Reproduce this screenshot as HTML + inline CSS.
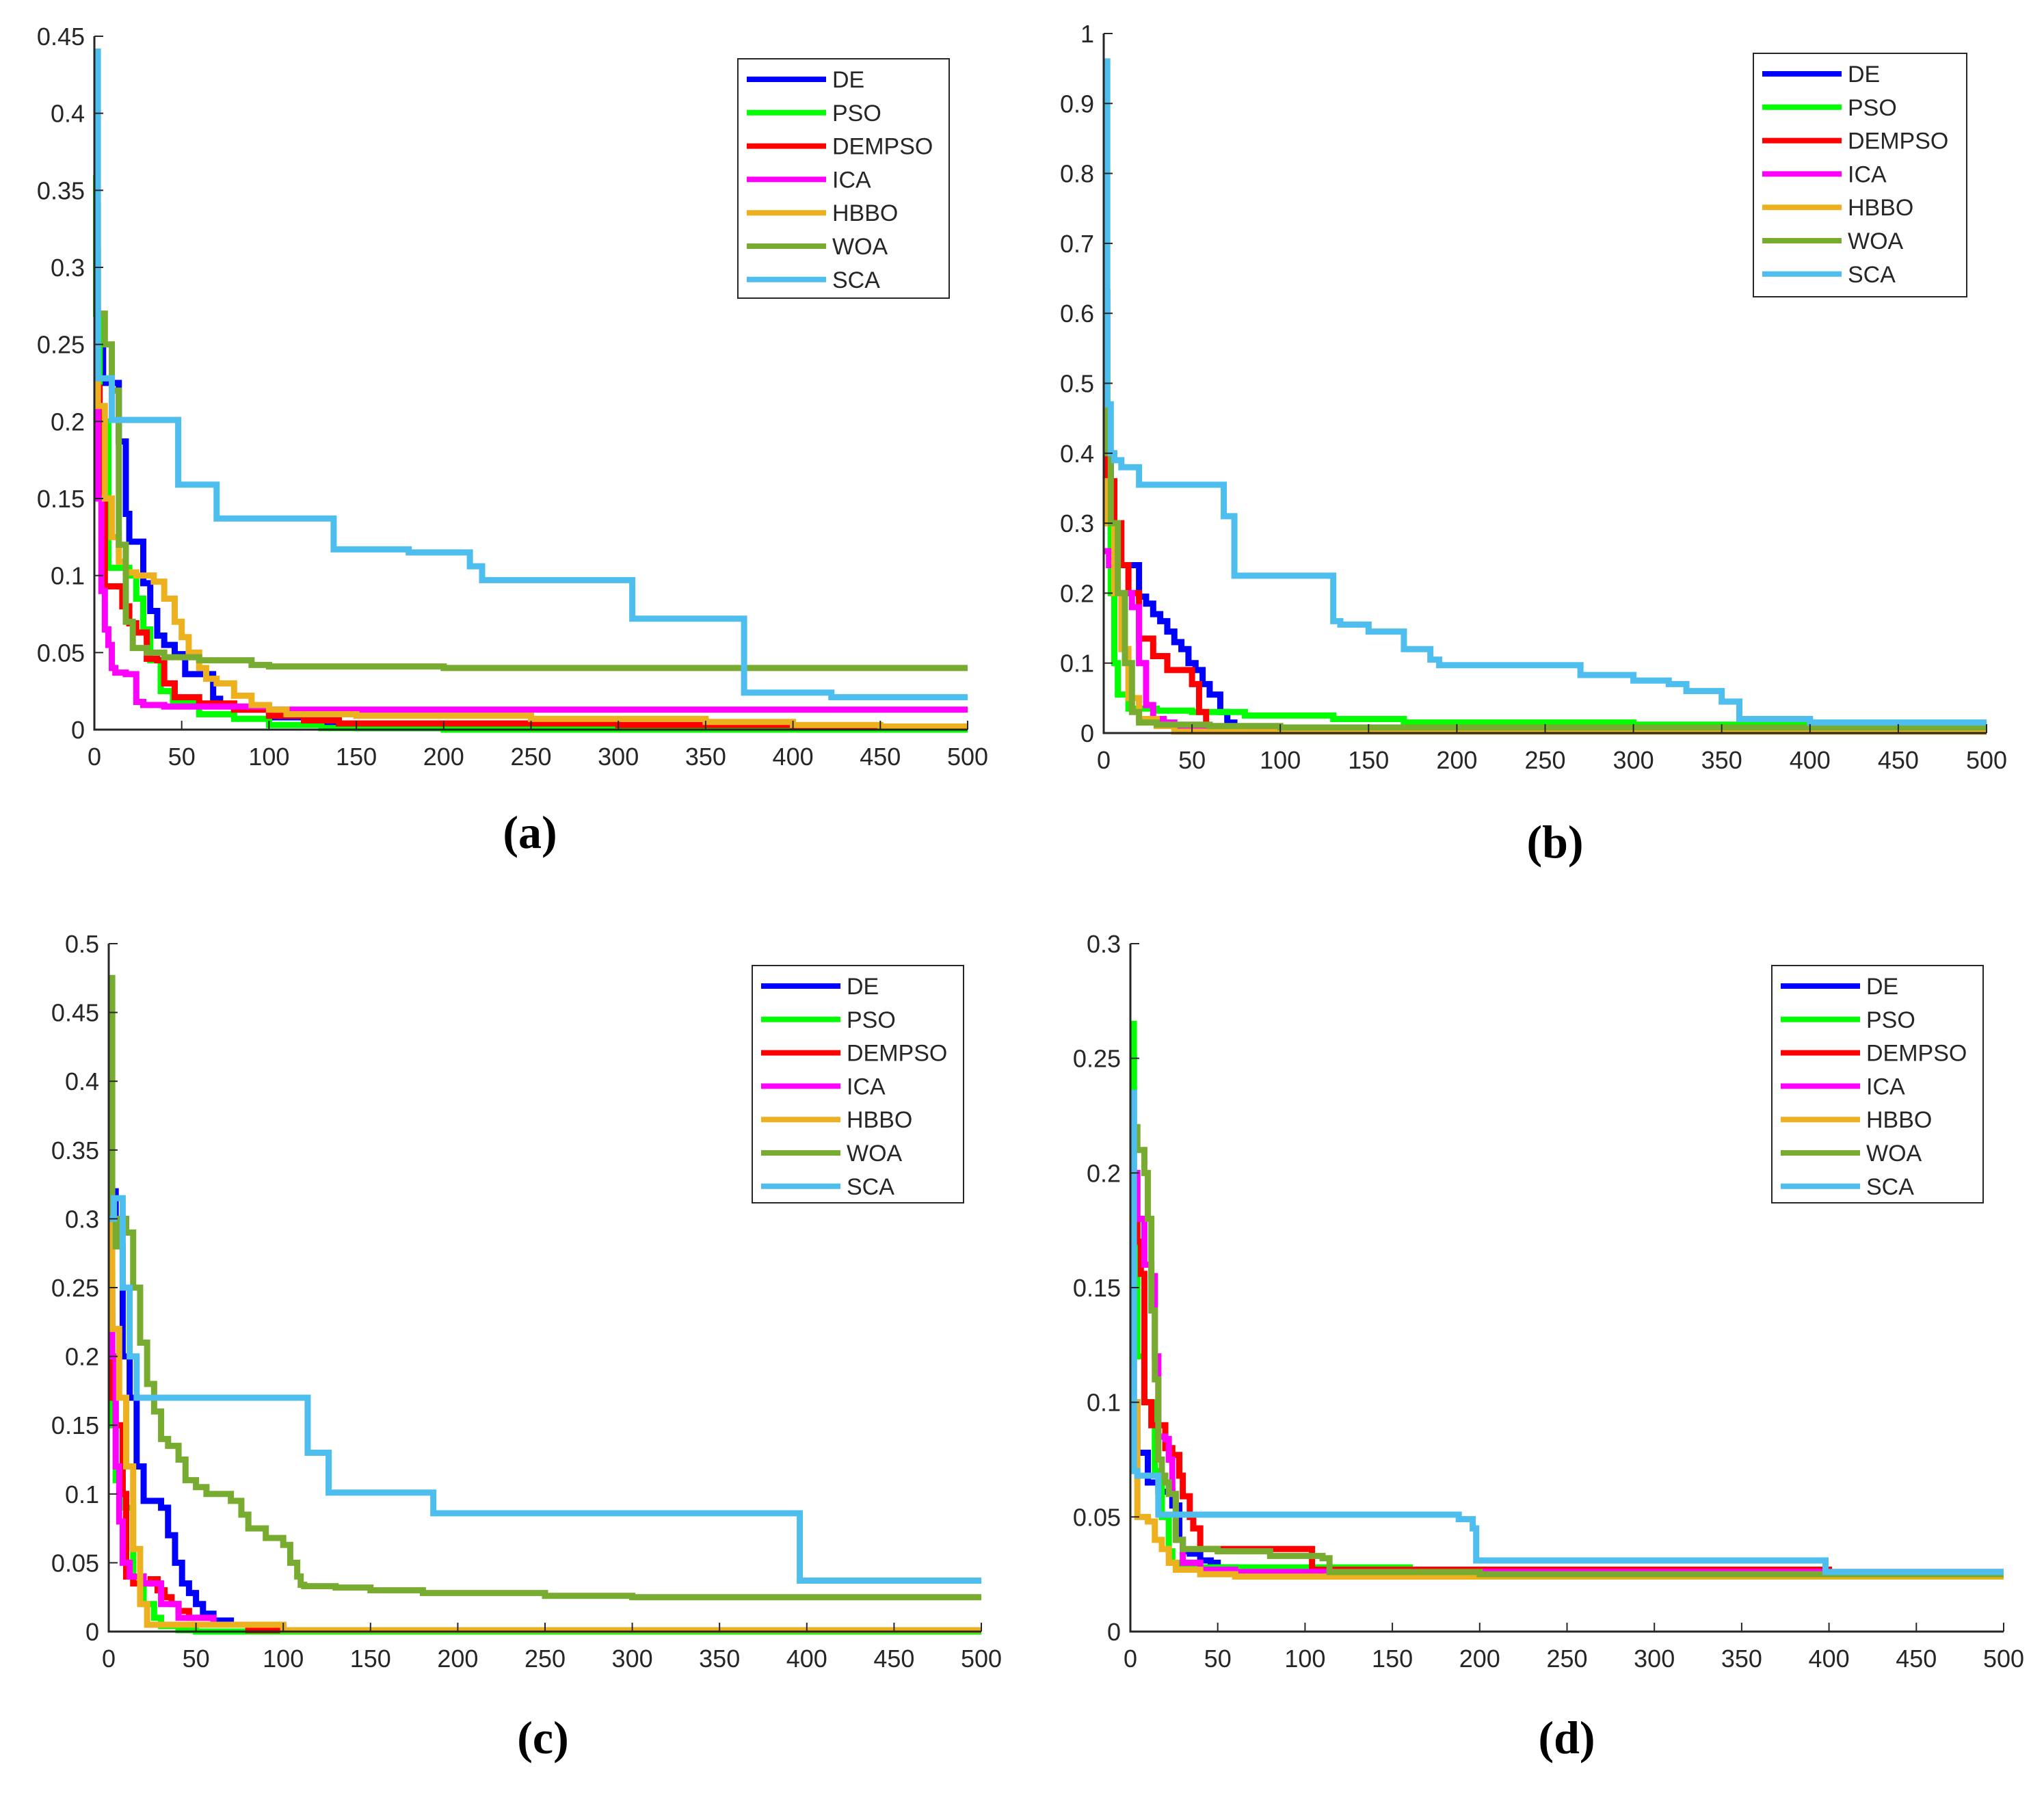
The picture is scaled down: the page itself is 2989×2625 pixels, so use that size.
<!DOCTYPE html>
<html><head><meta charset="utf-8"><style>
html,body{margin:0;padding:0;background:#fff}
svg{display:block}
text{font-family:"Liberation Sans",sans-serif;fill:#262626}
</style></head><body>
<svg id="fig" width="2989" height="2625" viewBox="0 0 2989 2625" xmlns="http://www.w3.org/2000/svg"></svg>
<script>
const names=["DE","PSO","DEMPSO","ICA","HBBO","WOA","SCA"];
const colors=["#0000ff","#00ff00","#ff0000","#ff00ff","#EDB120","#77AC30","#4DBEEE"];
// Panel a
const aX_DE=[0,2,5,14,18,20,28,32,36,40,46,52,68,72,80,100,130,150];
const aY_DE=[0.31,0.25,0.225,0.187,0.14,0.122,0.095,0.077,0.061,0.055,0.049,0.036,0.02,0.016,0.013,0.008,0.003,0.001];
const aX_PSO=[0,1,3,8,20,24,28,32,38,45,60,80,100,130,200];
const aY_PSO=[0.36,0.27,0.2,0.105,0.1,0.085,0.065,0.045,0.025,0.018,0.01,0.007,0.003,0.001,0];
const aX_DEMPSO=[0,3,6,16,20,24,30,36,40,46,60,80,100,120,140,300,400];
const aY_DEMPSO=[0.222,0.15,0.093,0.08,0.069,0.063,0.046,0.045,0.03,0.021,0.017,0.013,0.009,0.006,0.004,0.003,0.002];
const aX_ICA=[0,2,4,6,8,10,12,18,24,28,40,100];
const aY_ICA=[0.237,0.15,0.09,0.065,0.055,0.04,0.037,0.036,0.018,0.016,0.015,0.013];
const aX_HBBO=[0,2,6,10,14,18,24,34,40,46,50,54,60,64,70,80,90,100,110,150,250,350,400,450];
const aY_HBBO=[0.225,0.21,0.15,0.125,0.109,0.102,0.1,0.096,0.085,0.07,0.06,0.05,0.04,0.033,0.03,0.022,0.016,0.013,0.01,0.009,0.007,0.005,0.003,0.002];
const aX_WOA=[0,2,6,10,14,18,22,30,40,60,90,100,200];
const aY_WOA=[0.34,0.27,0.25,0.22,0.12,0.07,0.053,0.05,0.047,0.045,0.042,0.041,0.04];
const aX_SCA=[0,2,10,48,70,137,180,215,222,308,372,422];
const aY_SCA=[0.44,0.228,0.201,0.159,0.137,0.117,0.115,0.106,0.097,0.072,0.024,0.021];
// Panel b
const bX_DE=[0,2,4,14,20,24,28,32,36,40,44,48,52,56,60,66,70,74];
const bY_DE=[0.63,0.4,0.24,0.24,0.195,0.185,0.17,0.16,0.145,0.13,0.12,0.1,0.09,0.07,0.055,0.03,0.015,0.005];
const bX_PSO=[0,2,4,6,8,14,30,50,80,130,170,300];
const bY_PSO=[0.55,0.3,0.2,0.1,0.055,0.035,0.032,0.03,0.025,0.02,0.015,0.012];
const bX_DEMPSO=[0,2,6,10,14,20,28,36,44,50,54,58];
const bY_DEMPSO=[0.42,0.36,0.3,0.24,0.2,0.135,0.11,0.09,0.09,0.07,0.03,0.005];
const bX_ICA=[0,3,6,10,16,20,24,28,34,40,60];
const bY_ICA=[0.26,0.24,0.2,0.2,0.18,0.1,0.04,0.02,0.015,0.01,0.005];
const bX_HBBO=[0,2,6,10,14,20,30,40];
const bY_HBBO=[0.36,0.3,0.2,0.12,0.05,0.02,0.01,0.002];
const bX_WOA=[0,2,4,8,12,16,20,30,60,100];
const bY_WOA=[0.47,0.4,0.3,0.2,0.1,0.03,0.015,0.012,0.01,0.008];
const bX_SCA=[0,2,4,6,10,20,68,74,130,134,150,170,185,190,270,300,320,330,350,360,400];
const bY_SCA=[0.96,0.47,0.4,0.39,0.38,0.355,0.31,0.225,0.16,0.155,0.145,0.12,0.105,0.097,0.083,0.075,0.07,0.06,0.045,0.02,0.015];
// Panel c
const cX_DE=[0,4,8,12,16,20,30,34,38,42,46,50,54,60,70,80,100];
const cY_DE=[0.32,0.28,0.2,0.17,0.12,0.095,0.09,0.07,0.05,0.035,0.028,0.02,0.013,0.008,0.005,0.002,0];
const cX_PSO=[0,2,4,8,14,20,26,30,40,50];
const cY_PSO=[0.26,0.15,0.11,0.09,0.04,0.02,0.01,0.004,0.001,0];
const cX_DEMPSO=[0,2,4,8,10,14,24,28,32,36,40,46,60,80];
const cY_DEMPSO=[0.23,0.17,0.15,0.1,0.04,0.035,0.038,0.03,0.025,0.02,0.015,0.01,0.005,0.001];
const cX_ICA=[0,2,4,6,8,12,20,30,40,60,100];
const cY_ICA=[0.25,0.2,0.12,0.08,0.05,0.04,0.035,0.02,0.01,0.005,0.001];
const cX_HBBO=[0,2,6,10,14,18,22,100];
const cY_HBBO=[0.31,0.22,0.17,0.12,0.06,0.02,0.005,0.001];
const cX_WOA=[0,2,4,6,10,14,18,22,26,30,34,40,44,50,56,70,76,80,90,100,104,108,110,112,130,150,180,250,300];
const cY_WOA=[0.475,0.3,0.28,0.3,0.29,0.25,0.21,0.18,0.16,0.14,0.135,0.125,0.11,0.105,0.1,0.095,0.085,0.075,0.068,0.063,0.05,0.04,0.034,0.033,0.032,0.03,0.028,0.026,0.025];
const cX_SCA=[0,3,8,12,16,114,126,186,396];
const cY_SCA=[0.3,0.315,0.25,0.2,0.17,0.13,0.101,0.086,0.037];
// Panel d
const dX_DE=[0,2,4,8,10,16,20,24,28,30,34,40,46,50,60];
const dY_DE=[0.25,0.1,0.078,0.078,0.065,0.061,0.061,0.055,0.04,0.035,0.034,0.031,0.03,0.028,0.025];
const dX_PSO=[0,2,4,8,14,18,22,24,28,100,160,400];
const dY_PSO=[0.265,0.2,0.12,0.1,0.07,0.05,0.035,0.03,0.028,0.028,0.027,0.026];
const dX_DEMPSO=[0,4,6,8,12,16,20,24,28,30,34,36,40,102,104,150,400];
const dY_DEMPSO=[0.18,0.17,0.156,0.1,0.09,0.09,0.08,0.077,0.068,0.059,0.05,0.045,0.036,0.036,0.027,0.027,0.025];
const dX_ICA=[0,4,8,12,14,16,20,22,24,26,30,40,60];
const dY_ICA=[0.2,0.18,0.16,0.155,0.12,0.085,0.084,0.075,0.06,0.04,0.03,0.027,0.026];
const dX_HBBO=[0,2,4,10,14,18,22,26,40,60];
const dY_HBBO=[0.16,0.1,0.05,0.048,0.04,0.036,0.03,0.027,0.025,0.024];
const dX_WOA=[0,4,8,10,12,14,16,18,20,22,26,30,50,80,110,114,200];
const dY_WOA=[0.22,0.21,0.2,0.18,0.14,0.11,0.075,0.068,0.065,0.06,0.04,0.036,0.035,0.033,0.032,0.026,0.025];
const dX_SCA=[0,2,4,14,16,184,188,192,196,198,396,398];
const dY_SCA=[0.235,0.07,0.068,0.068,0.051,0.051,0.049,0.049,0.045,0.031,0.031,0.026];

const xTicks=[0,50,100,150,200,250,300,350,400,450,500];
const aYTicks=[0,0.05,0.1,0.15,0.2,0.25,0.3,0.35,0.4,0.45];
const bYTicks=[0,0.1,0.2,0.3,0.4,0.5,0.6,0.7,0.8,0.9,1];
const cYTicks=[0,0.05,0.1,0.15,0.2,0.25,0.3,0.35,0.4,0.45,0.5];
const dYTicks=[0,0.05,0.1,0.15,0.2,0.25,0.3];

const NS="http://www.w3.org/2000/svg";
const svg=document.getElementById('fig');
function mk(tag,attrs,parent){const e=document.createElementNS(NS,tag);for(const k in attrs)e.setAttribute(k,attrs[k]);(parent||svg).appendChild(e);return e;}

const panels=[
 {id:'a',x0:138,x1:1415,yTop:53,yBot:1067,ymax:0.45,yt:aYTicks,X:[aX_DE,aX_PSO,aX_DEMPSO,aX_ICA,aX_HBBO,aX_WOA,aX_SCA],Y:[aY_DE,aY_PSO,aY_DEMPSO,aY_ICA,aY_HBBO,aY_WOA,aY_SCA],leg:[1079,86,309,350],lab:[775,1240]},
 {id:'b',x0:1614,x1:2905,yTop:49,yBot:1072,ymax:1,yt:bYTicks,X:[bX_DE,bX_PSO,bX_DEMPSO,bX_ICA,bX_HBBO,bX_WOA,bX_SCA],Y:[bY_DE,bY_PSO,bY_DEMPSO,bY_ICA,bY_HBBO,bY_WOA,bY_SCA],leg:[2564,78,312,356],lab:[2274,1254]},
 {id:'c',x0:159,x1:1435,yTop:1380,yBot:2386,ymax:0.5,yt:cYTicks,X:[cX_DE,cX_PSO,cX_DEMPSO,cX_ICA,cX_HBBO,cX_WOA,cX_SCA],Y:[cY_DE,cY_PSO,cY_DEMPSO,cY_ICA,cY_HBBO,cY_WOA,cY_SCA],leg:[1100,1412,309,347],lab:[794,2564]},
 {id:'d',x0:1653,x1:2930,yTop:1380,yBot:2386,ymax:0.3,yt:dYTicks,X:[dX_DE,dX_PSO,dX_DEMPSO,dX_ICA,dX_HBBO,dX_WOA,dX_SCA],Y:[dY_DE,dY_PSO,dY_DEMPSO,dY_ICA,dY_HBBO,dY_WOA,dY_SCA],leg:[2591,1412,309,347],lab:[2291,2564]}
];

panels.forEach(p=>{
 const g=mk('g',{});
 
 
 const sx=v=>p.x0+(v/500)*(p.x1-p.x0);
 const sy=v=>p.yBot-(v/p.ymax)*(p.yBot-p.yTop);
 p.X.forEach((xs,si)=>{
  const ys=p.Y[si];
  let d='M'+sx(xs[0])+','+sy(ys[0]);
  for(let i=1;i<xs.length;i++){d+=' L'+sx(xs[i])+','+sy(ys[i-1])+' L'+sx(xs[i])+','+sy(ys[i]);}
  d+=' L'+sx(500)+','+sy(ys[ys.length-1]);
  const path=mk('path',{d:d,fill:'none',stroke:colors[si],'stroke-width':9,'stroke-linejoin':'miter'},g);
  
  
 });
 const ax=mk('path',{d:`M${p.x0},${p.yTop} L${p.x0},${p.yBot} L${p.x1},${p.yBot}`,fill:'none',stroke:'#262626','stroke-width':3},g);
 
 
 xTicks.forEach(t=>{
  mk('line',{x1:sx(t),x2:sx(t),y1:p.yBot,y2:p.yBot-13,stroke:'#262626','stroke-width':2},g);
  const tx=mk('text',{x:sx(t),y:p.yBot+52,'text-anchor':'middle','font-size':36},g);
  tx.textContent=String(t);
  
  
 });
 p.yt.forEach(t=>{
  mk('line',{x1:p.x0,x2:p.x0+13,y1:sy(t),y2:sy(t),stroke:'#262626','stroke-width':2},g);
  const tx=mk('text',{x:p.x0-14,y:sy(t)+13,'text-anchor':'end','font-size':36},g);
  tx.textContent=String(t);
  
  
 });
 const [lx,ly,lw,lh]=p.leg;
 const lg=mk('g',{},g);
 
 
 mk('rect',{x:lx,y:ly,width:lw,height:lh,fill:'#fff',stroke:'#262626','stroke-width':2},lg);
 names.forEach((n,i)=>{
  const cy=ly+30+i*48.8;
  const l=mk('line',{x1:lx+13,x2:lx+129,y1:cy,y2:cy,stroke:colors[i],'stroke-width':8},lg);
  
  
  const t=mk('text',{x:lx+138,y:cy+12,'font-size':34},lg);
  t.textContent=n;
  
  
 });
 const cap=mk('text',{x:p.lab[0],y:p.lab[1],'text-anchor':'middle','font-size':68,'font-weight':'bold'},g);
 cap.style.fontFamily='"Liberation Serif",serif';
 cap.style.fill='#000';
 cap.textContent='('+p.id+')';
 
 
});
</script>
</body></html>
